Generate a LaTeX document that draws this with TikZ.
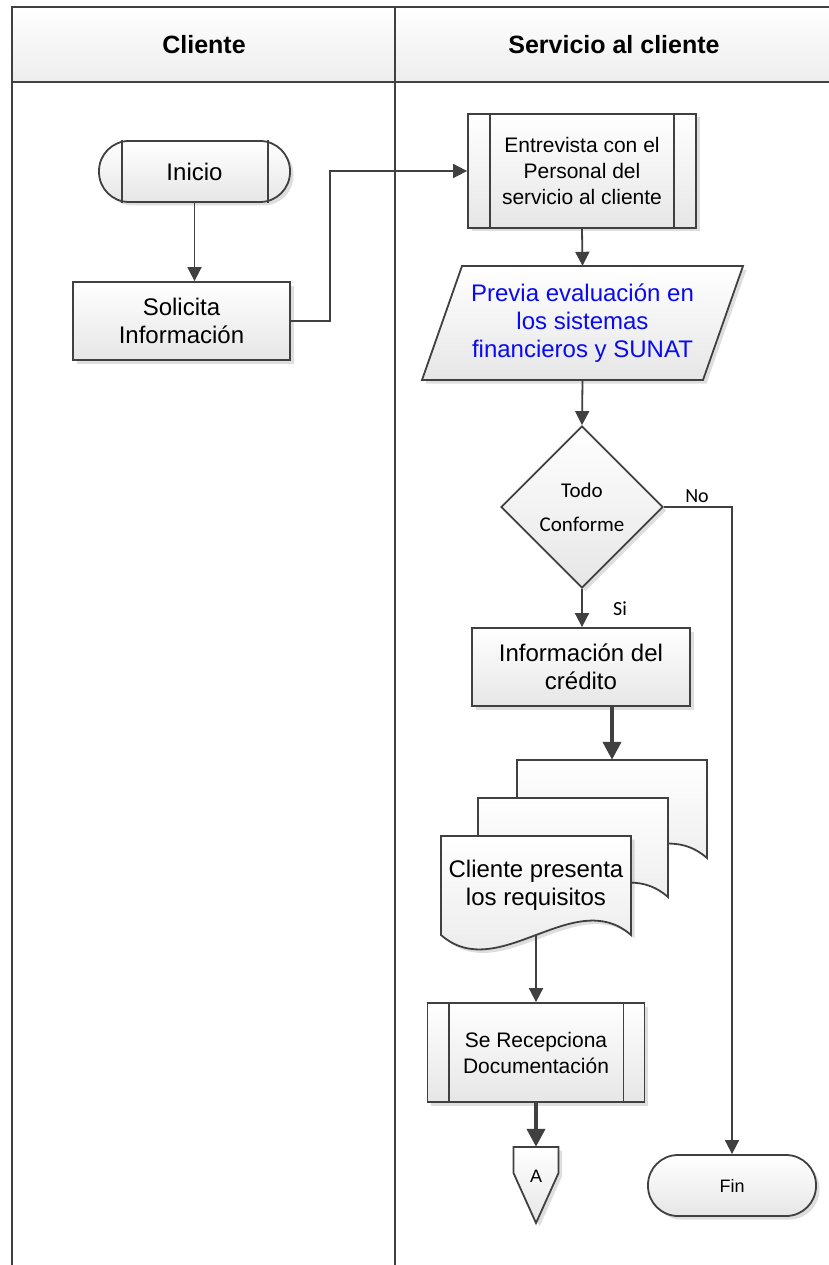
\documentclass[tikz,border=0pt]{standalone}
\usepackage{fontspec}
\setmainfont{Liberation Sans}
\newfontfamily\calfont{Carlito}
\usetikzlibrary{shapes.geometric,shadows,arrows.meta}

\definecolor{edge}{HTML}{404040}
\definecolor{shadeend}{HTML}{E6E6E6}
\definecolor{headend}{HTML}{EDEDED}
\definecolor{evalblue}{RGB}{10,10,240}

\newcommand\fsMain{\fontsize{24}{28}\selectfont}
\newcommand\fsSmall{\fontsize{21}{26}\selectfont}
\newcommand\fsHead{\bfseries\fontsize{25}{30}\selectfont}

\tikzset{
  lane/.style={draw=edge, line width=2pt},
  lanetitle/.style={font=\fsHead, inner sep=0pt},
  shapefill/.style={draw=edge, line width=1.8pt, top color=white, bottom color=shadeend,
    drop shadow={shadow xshift=3.5pt, shadow yshift=-3.5pt, fill=black, opacity=0.13}},
  box/.style={shapefill, align=center, inner sep=0pt, font=\fsMain},
  textonly/.style={align=center, inner sep=0pt, font=\fsMain},
  innerline/.style={draw=edge, line width=1.8pt},
  docfill/.style={draw=edge, line width=1.8pt, top color=white, bottom color=shadeend},
  flow/.style={draw=edge, line width=1.8pt, -{Triangle[length=14pt,width=14pt]}},
  boldflow/.style={draw=edge, line width=4pt, -{Triangle[length=18pt,width=18pt]}},
  lbl/.style={font=\calfont\fontsize{20}{24}\selectfont, inner sep=0pt},
}

\begin{document}
\begin{tikzpicture}[x=1pt,y=-1pt]
\useasboundingbox (0,0) rectangle (829,1265);

% swimlane frame and headers
\shade[top color=white, bottom color=headend] (12,7) rectangle (829,82);
\draw[lane] (829,7) -- (12,7) -- (12,1265);
\draw[lane] (12,82) -- (829,82);
\draw[lane] (395,7) -- (395,1265);
\node[lanetitle] (hcli) at (204,45) {Cliente};
\node[lanetitle] (hsrv) at (614,45) {Servicio al cliente};

% Cliente lane
\node[box, rounded corners=30pt, minimum width=191pt, minimum height=61pt] (ini) at (194.5,171.5) {Inicio};
\draw[innerline] ([xshift=24pt]ini.north west) -- ([xshift=24pt]ini.south west);
\draw[innerline] ([xshift=-23pt]ini.north east) -- ([xshift=-23pt]ini.south east);

\node[box, minimum width=217pt, minimum height=78pt] (sol) at (181.5,321) {Solicita\\Información};

% Servicio al cliente lane
\node[box, font=\fsSmall, minimum width=228pt, minimum height=114pt] (ent) at (582,171)
  {Entrevista con el\\Personal del\\servicio al cliente};
\draw[innerline] ([xshift=23pt]ent.north west) -- ([xshift=23pt]ent.south west);
\draw[innerline] ([xshift=-23pt]ent.north east) -- ([xshift=-23pt]ent.south east);

% data (parallelogram)
\path[shapefill] (462,266) -- (743,266) -- (703,380) -- (422,380) -- cycle;
\node[textonly, text=evalblue, minimum width=240pt, minimum height=114pt] (eval) at (582.5,323)
  {Previa evaluación en\\los sistemas\\financieros y SUNAT};

% decision
\node[box, diamond, aspect=1, minimum width=162pt, minimum height=162pt,
  font=\calfont\fontsize{21}{34}\selectfont] (chk) at (582,507) {Todo\\Conforme};
\node[lbl] (lno) at (697,496) {No};
\node[lbl] (lsi) at (620,609) {Si};

\node[box, minimum width=218pt, minimum height=78pt] (inf) at (581,667) {Información del\\crédito};

% multiple documents, back to front
\path[docfill] (517,760) -- (707,760) -- (707,858) .. controls (650,808) and (574,908) .. (517,858) -- cycle;
\path[docfill] (478,798) -- (668,798) -- (668,897) .. controls (611,847) and (535,947) .. (478,897) -- cycle;
\path[docfill, drop shadow={shadow xshift=3.5pt, shadow yshift=-3.5pt, fill=black, opacity=0.13}]
  (441,836) -- (631,836) -- (631,935) .. controls (574,885) and (498,985) .. (441,935) -- cycle;
\node[minimum width=190pt, minimum height=98pt, inner sep=0pt] (docb) at (612,809) {};
\node[textonly, minimum width=190pt, minimum height=99pt] (req) at (536,885.5)
  {Cliente presenta\\los requisitos};

\node[box, font=\fsSmall, minimum width=217pt, minimum height=99pt] (rec) at (536,1052.5)
  {Se Recepciona\\Documentación};
\draw[innerline] ([xshift=22pt]rec.north west) -- ([xshift=22pt]rec.south west);
\draw[innerline] ([xshift=-22pt]rec.north east) -- ([xshift=-22pt]rec.south east);

% off-page connector
\path[shapefill] (513.5,1147) -- (558.5,1147) -- (558.5,1173) -- (536,1223) -- (513.5,1173) -- cycle;
\node[textonly, font=\fontsize{18}{22}\selectfont, minimum height=58pt] (offa) at (536,1176) {A};

% terminator
\node[box, font=\fontsize{18}{22}\selectfont, rounded corners=30pt, minimum width=168pt,
  minimum height=61pt] (fin) at (732,1185.5) {Fin};

% connectors
\draw[flow] (ini.south) -- (ini.south |- sol.north);
\draw[flow] (sol.east) -- ++(39,0) |- (ent.west);
\draw[flow] (ent.south) -- (eval.north);
\draw[flow] (eval.south) -- (chk.north);
\draw[flow] (chk.east) -| (fin.north);
\draw[flow] (chk.south) -- (chk.south |- inf.north);
\draw[boldflow] (inf.south -| docb.north) -- (docb.north);
\draw[flow] (req.south) -- (rec.north);
\draw[boldflow] (rec.south) -- (offa.north);
\end{tikzpicture}
\end{document}
